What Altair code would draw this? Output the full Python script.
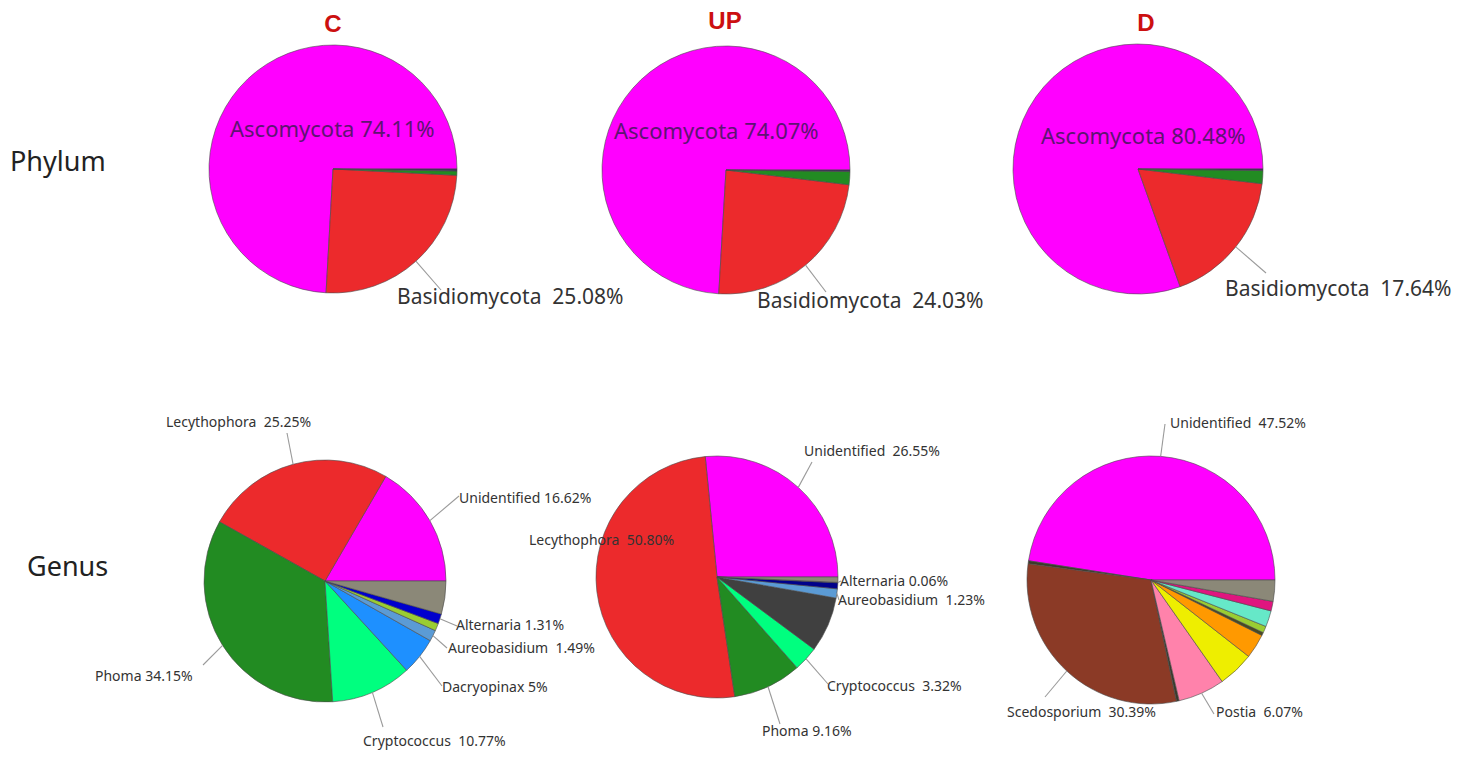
import math
import altair as alt

# ---------------- data ----------------
COLUMNS = ["C", "UP", "D"]
ROWS = ["Phylum", "Genus"]

PHYLUM_TAXA = ["Ascomycota", "Basidiomycota", "Phylum other a", "Phylum other b"]
PHYLUM_C = [74.11, 25.08, 0.55, 0.26]
PHYLUM_UP = [74.07, 24.03, 1.70, 0.20]
PHYLUM_D = [80.48, 17.64, 1.68, 0.20]

GENUS_C_TAXA = ["Unidentified", "Lecythophora", "Phoma", "Cryptococcus", "Dacryopinax",
                "Aureobasidium", "Genus yg", "Alternaria", "Others"]
GENUS_C = [16.62, 25.25, 34.15, 10.77, 5.00, 1.49, 1.00, 1.31, 4.41]

GENUS_UP_TAXA = ["Unidentified", "Lecythophora", "Phoma", "Cryptococcus", "Genus dg",
                 "Aureobasidium", "Genus navy", "Alternaria", "Others"]
GENUS_UP = [26.55, 50.80, 9.16, 3.32, 7.38, 1.23, 0.80, 0.06, 0.70]

GENUS_D_TAXA = ["Unidentified", "Genus d1", "Scedosporium", "Genus d2", "Postia", "Genus yellow",
                "Genus orange", "Genus d3", "Genus yg", "Genus aqua", "Genus pink", "Others"]
GENUS_D = [47.52, 0.40, 30.39, 0.35, 6.07, 4.70, 3.20, 0.40, 0.86, 2.10, 1.25, 2.76]

PIES = [
    ("phylum_C", PHYLUM_TAXA, PHYLUM_C),
    ("phylum_UP", PHYLUM_TAXA, PHYLUM_UP),
    ("phylum_D", PHYLUM_TAXA, PHYLUM_D),
    ("genus_C", GENUS_C_TAXA, GENUS_C),
    ("genus_UP", GENUS_UP_TAXA, GENUS_UP),
    ("genus_D", GENUS_D_TAXA, GENUS_D),
]

LABELLED = {
    "phylum_C": ["Ascomycota", "Basidiomycota"],
    "phylum_UP": ["Ascomycota", "Basidiomycota"],
    "phylum_D": ["Ascomycota", "Basidiomycota"],
    "genus_C": ["Unidentified", "Lecythophora", "Phoma", "Cryptococcus", "Dacryopinax",
                "Aureobasidium", "Alternaria"],
    "genus_UP": ["Unidentified", "Lecythophora", "Phoma", "Cryptococcus", "Aureobasidium", "Alternaria"],
    "genus_D": ["Unidentified", "Scedosporium", "Postia"],
}
# labels written with a wider gap between name and value in the original
WIDE_GAP = {
    ("phylum_C", "Basidiomycota"), ("phylum_UP", "Basidiomycota"), ("phylum_D", "Basidiomycota"),
    ("genus_C", "Lecythophora"), ("genus_C", "Aureobasidium"), ("genus_C", "Cryptococcus"),
    ("genus_UP", "Unidentified"), ("genus_UP", "Lecythophora"), ("genus_UP", "Cryptococcus"),
    ("genus_UP", "Aureobasidium"),
    ("genus_D", "Unidentified"), ("genus_D", "Scedosporium"), ("genus_D", "Postia"),
}

# ---------------- styles ----------------
COLORS = {
    "Ascomycota": "#FF00FF", "Basidiomycota": "#EC2A2C",
    "Phylum other a": "#228B22", "Phylum other b": "#3B2A5E",
    "Unidentified": "#FF00FF", "Lecythophora": "#EC2A2C", "Phoma": "#228B22",
    "Cryptococcus": "#00FF7F", "Dacryopinax": "#1E90FF", "Aureobasidium": "#5B9BD5",
    "Genus yg": "#9ACD32", "Alternaria": "#0000CD", "Others": "#8B8878",
    "Genus dg": "#404040", "Genus navy": "#00008B",
    "Genus d1": "#3A3A2A", "Scedosporium": "#8B3A26", "Genus d2": "#3A3A2A",
    "Postia": "#FF82AB", "Genus yellow": "#EEEE00", "Genus orange": "#FF9900",
    "Genus d3": "#4A4A20", "Genus aqua": "#66E8C8", "Genus pink": "#E0157F",
}

# ---------------- layout (pixel positions) ----------------
PIE_LAYOUT = {
    "phylum_C": (333, 169, 124), "phylum_UP": (726, 170, 124), "phylum_D": (1138, 169, 125),
    "genus_C": (325, 581, 121), "genus_UP": (717, 577, 121), "genus_D": (1151, 580, 124),
}
LABEL_LAYOUT = {  # text left x, text centre y, leader end x, leader end y
    ("phylum_C", "Ascomycota"): (230, 130, None, None),
    ("phylum_C", "Basidiomycota"): (397, 298, 441, 290),
    ("phylum_UP", "Ascomycota"): (614, 132, None, None),
    ("phylum_UP", "Basidiomycota"): (757, 302, 826, 292),
    ("phylum_D", "Ascomycota"): (1041, 137, None, None),
    ("phylum_D", "Basidiomycota"): (1225, 290, 1266, 273),
    ("genus_C", "Lecythophora"): (166, 423, 287, 433),
    ("genus_C", "Unidentified"): (459, 499, 459, 496),
    ("genus_C", "Phoma"): (95, 677, 203, 665),
    ("genus_C", "Cryptococcus"): (363, 742, 383, 727),
    ("genus_C", "Dacryopinax"): (442, 688, 442, 686),
    ("genus_C", "Aureobasidium"): (448, 649, 447, 648),
    ("genus_C", "Alternaria"): (456, 626, 457, 626),
    ("genus_UP", "Unidentified"): (804, 452, 812, 462),
    ("genus_UP", "Lecythophora"): (529, 541, None, None),
    ("genus_UP", "Phoma"): (762, 732, 780, 724),
    ("genus_UP", "Cryptococcus"): (827, 687, 828, 684),
    ("genus_UP", "Aureobasidium"): (838, 601, 839, 600),
    ("genus_UP", "Alternaria"): (840, 582, 841, 581),
    ("genus_D", "Unidentified"): (1170, 424, 1165, 424),
    ("genus_D", "Scedosporium"): (1007, 713, 1045, 697),
    ("genus_D", "Postia"): (1216, 713, 1214, 714),
}
TITLE_LAYOUT = [(333, 25), (725, 22), (1146, 24)]
ROW_LAYOUT = [(10, 163), (27, 568)]


def fmt(v):
    return str(int(v)) if float(v).is_integer() else f"{v:.2f}"


rows = []
for pie, taxa, values in PIES:
    cx, cy, r = PIE_LAYOUT[pie]
    for i, (t, v) in enumerate(zip(taxa, values)):
        row = {"pie": pie, "idx": i, "taxon": t, "value": v, "cx": cx, "cy": cy, "r": r,
               "kind": pie.split("_")[0]}
        if t in LABELLED[pie]:
            tx, ty, ex, ey = LABEL_LAYOUT[(pie, t)]
            gap = "\u00a0 " if (pie, t) in WIDE_GAP else " "
            row.update({"label": f"{t}{gap}{fmt(v)}%", "tx": tx, "ty": ty})
            if ex is not None:
                row.update({"ex": ex, "ey": ey})
        rows.append(row)

W, H = 1462, 743
xs = alt.Scale(domain=[8, 8 + W], nice=False, zero=False)
ys = alt.Scale(domain=[8, 8 + H], nice=False, zero=False, reverse=True)

base = (
    alt.Chart(alt.Data(values=rows))
    .transform_joinaggregate(total="sum(value)", groupby=["pie"])
    .transform_window(cum="sum(value)", groupby=["pie"], sort=[alt.SortField("idx")], frame=[None, 0])
    .transform_calculate(f0="(datum.cum - datum.value) / datum.total", f1="datum.cum / datum.total")
)

arcs = base.mark_arc(stroke="#4a4a4a", strokeWidth=0.6).encode(
    x=alt.X("cx:Q", scale=xs, axis=None),
    y=alt.Y("cy:Q", scale=ys, axis=None),
    theta=alt.Theta("f0:Q", scale=alt.Scale(domain=[0, 1], range=[math.pi / 2, 5 * math.pi / 2], reverse=True)),
    theta2="f1:Q",
    radius=alt.Radius("r:Q", scale=None),
    color=alt.Color("taxon:N", scale=alt.Scale(domain=list(COLORS.keys()), range=list(COLORS.values())), legend=None),
    order=alt.Order("idx:Q"),
)

leaders = (
    base.transform_filter("isValid(datum.ex)")
    .transform_calculate(
        sx="datum.cx + datum.r * cos(PI * (datum.f0 + datum.f1))",
        sy="datum.cy - datum.r * sin(PI * (datum.f0 + datum.f1))",
    )
    .mark_rule(color="#9a9a9a", strokeWidth=1.1)
    .encode(x=alt.X("sx:Q", scale=xs, axis=None), y=alt.Y("sy:Q", scale=ys, axis=None),
            x2="ex:Q", y2="ey:Q")
)

lab = base.transform_filter("isValid(datum.label)")
inner_labels = lab.transform_filter("datum.taxon == 'Ascomycota'").mark_text(
    align="left", baseline="middle", font="Noto Sans", fontSize=22, color="#5E1472"
).encode(x=alt.X("tx:Q", scale=xs), y=alt.Y("ty:Q", scale=ys), text="label:N")
phylum_labels = lab.transform_filter("datum.kind == 'phylum' && datum.taxon != 'Ascomycota'").mark_text(
    align="left", baseline="middle", font="Noto Sans", fontSize=21, color="#333333"
).encode(x=alt.X("tx:Q", scale=xs), y=alt.Y("ty:Q", scale=ys), text="label:N")
genus_labels = lab.transform_filter("datum.kind == 'genus'").mark_text(
    align="left", baseline="middle", font="Noto Sans", fontSize=14, color="#333333"
).encode(x=alt.X("tx:Q", scale=xs), y=alt.Y("ty:Q", scale=ys), text="label:N")

titles = alt.Chart(alt.Data(values=[{"t": t, "x": x, "y": y} for t, (x, y) in zip(COLUMNS, TITLE_LAYOUT)])).mark_text(
    align="center", baseline="middle", font="Liberation Sans", fontSize=24, fontWeight="bold", color="#CC1010"
).encode(x=alt.X("x:Q", scale=xs), y=alt.Y("y:Q", scale=ys), text="t:N")

row_labels = alt.Chart(alt.Data(values=[{"t": t, "x": x, "y": y} for t, (x, y) in zip(ROWS, ROW_LAYOUT)])).mark_text(
    align="left", baseline="middle", font="Noto Sans", fontSize=27, color="#222222"
).encode(x=alt.X("x:Q", scale=xs), y=alt.Y("y:Q", scale=ys), text="t:N")

chart = (
    alt.layer(arcs, leaders, inner_labels, phylum_labels, genus_labels, titles, row_labels)
    .properties(width=W, height=H, padding=0, autosize=alt.AutoSizeParams(type="none"), background="white")
    .configure_view(stroke=None)
)

chart.save("out.html", embed_options={"renderer": "svg", "actions": False})
